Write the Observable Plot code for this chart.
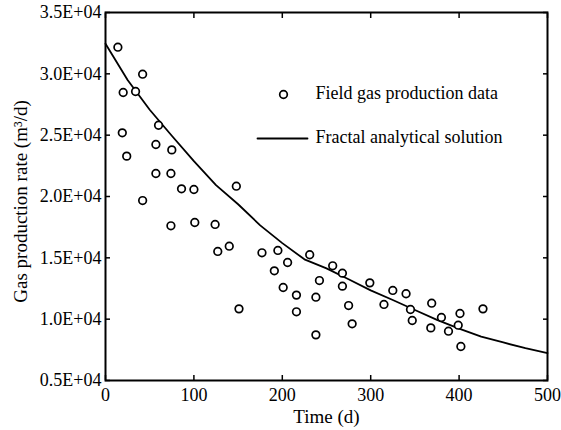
<!DOCTYPE html>
<html>
<head>
<meta charset="utf-8">
<script src="https://cdn.jsdelivr.net/npm/d3@7"></script>
<script src="https://cdn.jsdelivr.net/npm/@observablehq/plot@0.6"></script>
<style>
  html, body { margin: 0; padding: 0; background: #fff; }
</style>
</head>
<body>
<div id="chart"></div>
<script>
// Field gas production data (time in days, rate in m3/d)
const fieldTime = [14, 42, 20, 34, 60, 19, 57, 75, 24, 57, 74, 86, 100, 148, 42,
  74, 101, 124, 127, 140, 151, 177, 195, 206, 191, 231, 201, 216, 242, 238, 216, 238,
  257, 268, 268, 275, 279, 299, 315, 325, 340, 345, 347, 369, 368, 380, 388, 401, 399, 402, 427];
const fieldRate = [32170, 29970, 28480, 28560, 25810, 25190, 24240, 23800, 23290, 21875, 21875, 20625, 20570, 20840, 19670,
  17610, 17880, 17720, 15520, 15950, 10840, 15410, 15600, 14620, 13940, 15250, 12580, 11960, 13150, 11790, 10600, 8720,
  14350, 13750, 12690, 11110, 9620, 12960, 11200, 12340, 12070, 10790, 9890, 11300, 9290, 10140, 9020, 10460, 9510, 7770, 10840];

// Fractal analytical solution
const solTime = [0, 25, 50, 75, 100, 125, 150, 175, 200, 225, 250, 275, 300, 325, 350, 375, 400, 425, 450, 475, 500];
const solRate = [32450, 29500, 27070, 24950, 22880, 20930, 19370, 17650, 16200, 14880, 14140, 13250, 12350, 11560, 10750, 9945, 9230, 8580, 8100, 7630, 7230];

const xTicks = [0, 100, 200, 300, 400, 500];
const yTicks = [5000, 10000, 15000, 20000, 25000, 30000, 35000];
const yTickLabels = ["0.5E+04", "1.0E+04", "1.5E+04", "2.0E+04", "2.5E+04", "3.0E+04", "3.5E+04"];

const legendLabels = ["Field gas production data", "Fractal analytical solution"];

const field = fieldTime.map((t, i) => ({t, q: fieldRate[i]}));
const sol = solTime.map((t, i) => ({t, q: solRate[i]}));
const hLine = {draw(ctx, l) { ctx.moveTo(0, 0); ctx.lineTo(l, 0); }};

const chart = Plot.plot({
  width: 561,
  height: 430,
  marginLeft: 105,
  marginRight: 14,
  marginTop: 12,
  marginBottom: 50,
  style: {fontFamily: "'Liberation Serif', 'Times New Roman', serif", fontSize: "18px", color: "black", background: "white"},
  x: {domain: [0, 500], ticks: xTicks},
  y: {domain: [5000, 35000], ticks: yTicks},
  marks: [
    // inward ticks on all four sides
    Plot.axisY(yTicks, {anchor: "left", tickSize: 5, dx: 5, fill: "none", strokeWidth: 1.5}),
    Plot.axisY(yTicks, {anchor: "right", tickSize: 5, dx: -5, fill: "none", strokeWidth: 1.5}),
    Plot.axisX(xTicks, {anchor: "bottom", tickSize: 5, dy: -5, fill: "none", strokeWidth: 1.5}),
    Plot.axisX(xTicks, {anchor: "top", tickSize: 5, dy: 5, fill: "none", strokeWidth: 1.5}),
    // tick labels
    Plot.axisY(yTicks, {anchor: "left", tickSize: 0, tickPadding: 4, label: null,
      tickFormat: d => yTickLabels[yTicks.indexOf(d)], fontSize: 18}),
    Plot.axisX(xTicks, {anchor: "bottom", tickSize: 0, tickPadding: 8, label: null, fontSize: 18}),
    // axis titles
    Plot.text(["Time (d)"], {frameAnchor: "bottom", dy: 36, text: d => d, fontSize: 19, textAnchor: "middle", lineAnchor: "middle"}),
    Plot.text(["Gas production rate (m³/d)"], {frameAnchor: "left", dx: -85, dy: 5, rotate: -90, text: d => d, fontSize: 19, textAnchor: "middle", lineAnchor: "middle"}),
    // data
    Plot.line(sol, {x: "t", y: "q", stroke: "black", strokeWidth: 1.8}),
    Plot.dot(field, {x: "t", y: "q", r: 3.8, stroke: "black", strokeWidth: 1.7, fill: "white"}),
    // legend
    Plot.dot([legendLabels[0]], {frameAnchor: "top-left", dx: 178, dy: 82, r: 3.8, stroke: "black", strokeWidth: 1.7, fill: "white"}),
    Plot.text([legendLabels[0]], {frameAnchor: "top-left", dx: 210, dy: 81, text: d => d, textAnchor: "start", fontSize: 18, lineAnchor: "middle"}),
    Plot.vector([legendLabels[1]], {frameAnchor: "top-left", dx: 152, dy: 126, length: 50, shape: hLine, anchor: "start", stroke: "black", strokeWidth: 1.8}),
    Plot.text([legendLabels[1]], {frameAnchor: "top-left", dx: 210, dy: 125, text: d => d, textAnchor: "start", fontSize: 18, lineAnchor: "middle"}),
    Plot.frame({stroke: "black", strokeWidth: 2})
  ]
});
document.getElementById("chart").appendChild(chart);
</script>
</body>
</html>
